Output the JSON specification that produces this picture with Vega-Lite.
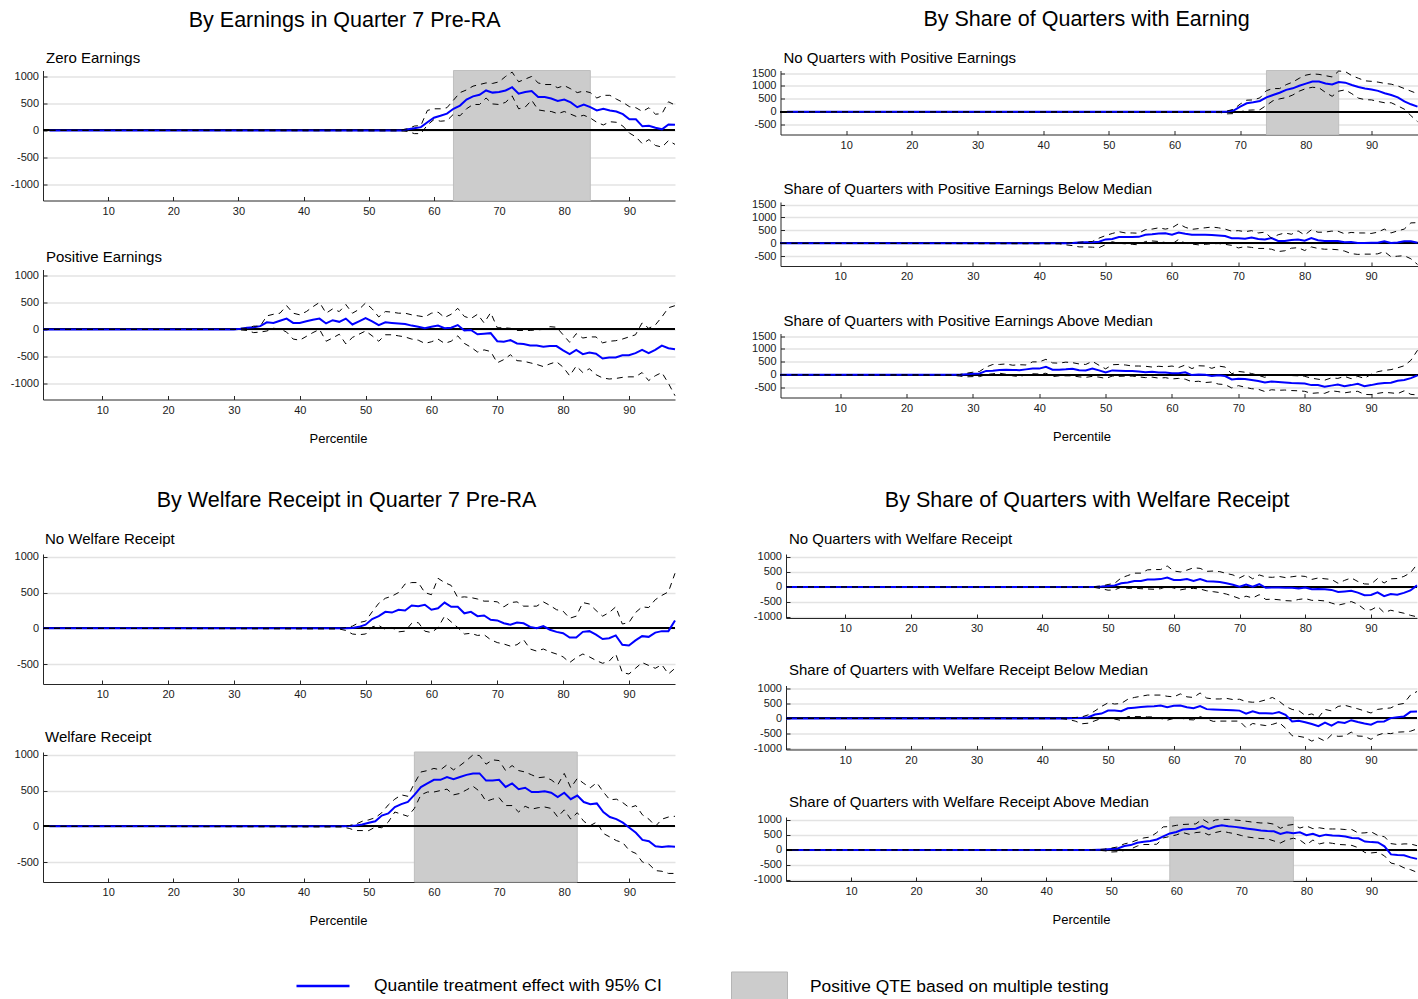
{
  "$schema": "https://vega.github.io/schema/vega-lite/v6.json",
  "padding": {"left": 10, "top": 8.5, "right": 0, "bottom": 0},
  "config": {
    "font": "Liberation Sans",
    "view": {"stroke": null},
    "axis": {"ticks": true, "tickSize": -4, "tickColor": "#262626", "labelOverlap": false, "labelFont": "Liberation Sans", "labelFontSize": 11, "labelColor": "#1a1a1a", "domainColor": "#262626", "domainWidth": 1, "labelPadding": 8.5, "titleFont": "Liberation Sans", "titleFontSize": 13, "titleFontWeight": "normal", "titleColor": "black"},
    "axisY": {"grid": true, "gridColor": "#e3e3e3", "gridWidth": 1.5, "tickCount": 10, "labelExpr": "'' + datum.value"},
    "axisX": {"grid": false, "labelAngle": 0},
    "title": {"font": "Liberation Sans", "fontWeight": "normal", "color": "black"},
    "legend": {"padding": 0, "labelFont": "Liberation Sans", "labelFontSize": 17.4, "labelColor": "black", "labelLimit": 0}
  },
  "datasets": {
    "zero": [
      {"x":1,"q":0,"l":0,"h":0},{"x":55,"q":0,"l":-10,"h":10},{"x":56,"q":20,"l":-20,"h":30},{"x":57,"q":40,"l":-60,"h":80},{"x":58,"q":60,"l":-60,"h":90},{"x":59,"q":150,"l":100,"h":370},{"x":60,"q":235,"l":200,"h":400},{"x":61,"q":270,"l":170,"h":400},{"x":62,"q":310,"l":180,"h":420},{"x":63,"q":400,"l":300,"h":560},{"x":64,"q":460,"l":270,"h":700},{"x":65,"q":570,"l":400,"h":750},{"x":66,"q":630,"l":480,"h":820},{"x":67,"q":660,"l":480,"h":850},{"x":68,"q":740,"l":600,"h":880},{"x":69,"q":700,"l":490,"h":870},{"x":70,"q":710,"l":480,"h":900},{"x":71,"q":740,"l":520,"h":1000},{"x":72,"q":800,"l":640,"h":1080},{"x":73,"q":680,"l":400,"h":900},{"x":74,"q":710,"l":430,"h":950},{"x":75,"q":730,"l":560,"h":1000},{"x":76,"q":620,"l":380,"h":880},{"x":77,"q":620,"l":360,"h":850},{"x":78,"q":590,"l":350,"h":850},{"x":79,"q":545,"l":310,"h":790},{"x":80,"q":570,"l":350,"h":830},{"x":81,"q":520,"l":300,"h":770},{"x":82,"q":430,"l":250,"h":700},{"x":83,"q":480,"l":280,"h":730},{"x":84,"q":430,"l":230,"h":700},{"x":85,"q":370,"l":150,"h":600},{"x":86,"q":400,"l":100,"h":650},{"x":87,"q":370,"l":160,"h":650},{"x":88,"q":350,"l":150,"h":580},{"x":89,"q":300,"l":80,"h":520},{"x":90,"q":205,"l":-50,"h":440},{"x":91,"q":205,"l":-120,"h":420},{"x":92,"q":75,"l":-250,"h":350},{"x":93,"q":85,"l":-170,"h":420},{"x":94,"q":50,"l":-280,"h":300},{"x":95,"q":20,"l":-310,"h":310},{"x":96,"q":110,"l":-190,"h":530},{"x":97,"q":105,"l":-260,"h":470}
    ],
    "pos": [
      {"x":1,"q":0,"l":0,"h":0},{"x":30,"q":0,"l":0,"h":0},{"x":31,"q":10,"l":-10,"h":20},{"x":32,"q":30,"l":-20,"h":20},{"x":33,"q":40,"l":-60,"h":60},{"x":34,"q":60,"l":-50,"h":60},{"x":35,"q":130,"l":-30,"h":250},{"x":36,"q":120,"l":20,"h":280},{"x":37,"q":160,"l":10,"h":300},{"x":38,"q":200,"l":-50,"h":440},{"x":39,"q":120,"l":-180,"h":300},{"x":40,"q":120,"l":-200,"h":270},{"x":41,"q":150,"l":-130,"h":330},{"x":42,"q":180,"l":-60,"h":420},{"x":43,"q":200,"l":0,"h":500},{"x":44,"q":110,"l":-220,"h":300},{"x":45,"q":170,"l":-160,"h":380},{"x":46,"q":140,"l":-90,"h":330},{"x":47,"q":200,"l":-270,"h":460},{"x":48,"q":90,"l":-150,"h":300},{"x":49,"q":150,"l":-90,"h":370},{"x":50,"q":210,"l":-30,"h":490},{"x":51,"q":150,"l":-120,"h":380},{"x":52,"q":80,"l":-220,"h":230},{"x":53,"q":130,"l":-100,"h":330},{"x":54,"q":120,"l":-100,"h":320},{"x":55,"q":110,"l":-120,"h":300},{"x":56,"q":100,"l":-140,"h":300},{"x":57,"q":70,"l":-180,"h":270},{"x":58,"q":50,"l":-200,"h":250},{"x":59,"q":20,"l":-260,"h":230},{"x":60,"q":50,"l":-230,"h":300},{"x":61,"q":70,"l":-180,"h":320},{"x":62,"q":20,"l":-260,"h":220},{"x":63,"q":30,"l":-220,"h":280},{"x":64,"q":80,"l":-120,"h":390},{"x":65,"q":-20,"l":-260,"h":240},{"x":66,"q":-10,"l":-330,"h":200},{"x":67,"q":-90,"l":-420,"h":280},{"x":68,"q":-80,"l":-380,"h":120},{"x":69,"q":-70,"l":-410,"h":310},{"x":70,"q":-220,"l":-620,"h":30},{"x":71,"q":-230,"l":-560,"h":30},{"x":72,"q":-200,"l":-470,"h":20},{"x":73,"q":-260,"l":-580,"h":-20},{"x":74,"q":-270,"l":-590,"h":-20},{"x":75,"q":-300,"l":-620,"h":-20},{"x":76,"q":-300,"l":-650,"h":-10},{"x":77,"q":-320,"l":-690,"h":0},{"x":78,"q":-310,"l":-640,"h":50},{"x":79,"q":-310,"l":-600,"h":40},{"x":80,"q":-390,"l":-700,"h":-100},{"x":81,"q":-460,"l":-860,"h":-240},{"x":82,"q":-380,"l":-680,"h":-80},{"x":83,"q":-460,"l":-800,"h":-160},{"x":84,"q":-430,"l":-730,"h":-140},{"x":85,"q":-450,"l":-840,"h":-140},{"x":86,"q":-540,"l":-900,"h":-250},{"x":87,"q":-520,"l":-920,"h":-220},{"x":88,"q":-520,"l":-910,"h":-210},{"x":89,"q":-480,"l":-890,"h":-180},{"x":90,"q":-480,"l":-880,"h":-140},{"x":91,"q":-440,"l":-880,"h":-100},{"x":92,"q":-380,"l":-800,"h":120},{"x":93,"q":-440,"l":-950,"h":20},{"x":94,"q":-380,"l":-860,"h":80},{"x":95,"q":-300,"l":-800,"h":230},{"x":96,"q":-350,"l":-1000,"h":400},{"x":97,"q":-370,"l":-1230,"h":440}
    ],
    "noq": [
      {"x":1,"q":0,"l":0,"h":0},{"x":67,"q":0,"l":-30,"h":10},{"x":68,"q":10,"l":-80,"h":30},{"x":69,"q":50,"l":-70,"h":100},{"x":70,"q":200,"l":0,"h":300},{"x":71,"q":330,"l":60,"h":450},{"x":72,"q":370,"l":70,"h":460},{"x":73,"q":420,"l":80,"h":540},{"x":74,"q":560,"l":250,"h":820},{"x":75,"q":650,"l":430,"h":900},{"x":76,"q":740,"l":500,"h":900},{"x":77,"q":850,"l":550,"h":1050},{"x":78,"q":910,"l":650,"h":1150},{"x":79,"q":1010,"l":800,"h":1300},{"x":80,"q":1090,"l":900,"h":1420},{"x":81,"q":1170,"l":950,"h":1470},{"x":82,"q":1170,"l":930,"h":1450},{"x":83,"q":1100,"l":750,"h":1400},{"x":84,"q":1060,"l":600,"h":1350},{"x":85,"q":1150,"l":800,"h":1580},{"x":86,"q":1130,"l":850,"h":1560},{"x":87,"q":1040,"l":700,"h":1400},{"x":88,"q":960,"l":530,"h":1300},{"x":89,"q":900,"l":470,"h":1200},{"x":90,"q":860,"l":460,"h":1180},{"x":91,"q":810,"l":400,"h":1150},{"x":92,"q":720,"l":350,"h":1100},{"x":93,"q":650,"l":350,"h":1070},{"x":94,"q":560,"l":230,"h":1000},{"x":95,"q":400,"l":100,"h":900},{"x":96,"q":290,"l":-150,"h":800},{"x":97,"q":200,"l":-380,"h":700}
    ],
    "below": [
      {"x":1,"q":0,"l":0,"h":0},{"x":43,"q":0,"l":-20,"h":0},{"x":44,"q":0,"l":-60,"h":10},{"x":45,"q":10,"l":-90,"h":20},{"x":46,"q":30,"l":-140,"h":40},{"x":47,"q":40,"l":-140,"h":60},{"x":48,"q":40,"l":-150,"h":70},{"x":49,"q":60,"l":-170,"h":200},{"x":50,"q":150,"l":-50,"h":300},{"x":51,"q":170,"l":60,"h":380},{"x":52,"q":240,"l":0,"h":450},{"x":53,"q":240,"l":-20,"h":400},{"x":54,"q":240,"l":-40,"h":400},{"x":55,"q":250,"l":-60,"h":390},{"x":56,"q":330,"l":70,"h":530},{"x":57,"q":350,"l":90,"h":550},{"x":58,"q":380,"l":70,"h":600},{"x":59,"q":390,"l":30,"h":550},{"x":60,"q":330,"l":-30,"h":600},{"x":61,"q":420,"l":150,"h":760},{"x":62,"q":370,"l":0,"h":620},{"x":63,"q":330,"l":-30,"h":540},{"x":64,"q":330,"l":-60,"h":570},{"x":65,"q":330,"l":-40,"h":600},{"x":66,"q":320,"l":-20,"h":630},{"x":67,"q":300,"l":-10,"h":600},{"x":68,"q":280,"l":-40,"h":550},{"x":69,"q":200,"l":-80,"h":470},{"x":70,"q":200,"l":-180,"h":490},{"x":71,"q":180,"l":-130,"h":450},{"x":72,"q":220,"l":-160,"h":490},{"x":73,"q":170,"l":-200,"h":400},{"x":74,"q":150,"l":-200,"h":430},{"x":75,"q":200,"l":-230,"h":200},{"x":76,"q":90,"l":-320,"h":330},{"x":77,"q":90,"l":-290,"h":400},{"x":78,"q":130,"l":-190,"h":350},{"x":79,"q":150,"l":-170,"h":480},{"x":80,"q":100,"l":-280,"h":320},{"x":81,"q":200,"l":-140,"h":520},{"x":82,"q":120,"l":-200,"h":430},{"x":83,"q":90,"l":-230,"h":430},{"x":84,"q":90,"l":-230,"h":470},{"x":85,"q":90,"l":-250,"h":470},{"x":86,"q":40,"l":-300,"h":370},{"x":87,"q":50,"l":-400,"h":420},{"x":88,"q":10,"l":-430,"h":400},{"x":89,"q":10,"l":-420,"h":400},{"x":90,"q":20,"l":-420,"h":380},{"x":91,"q":20,"l":-410,"h":430},{"x":92,"q":80,"l":-320,"h":550},{"x":93,"q":10,"l":-520,"h":400},{"x":94,"q":30,"l":-500,"h":480},{"x":95,"q":80,"l":-480,"h":550},{"x":96,"q":80,"l":-600,"h":790},{"x":97,"q":20,"l":-820,"h":800}
    ],
    "above": [
      {"x":1,"q":0,"l":0,"h":0},{"x":27,"q":0,"l":-20,"h":0},{"x":28,"q":0,"l":-50,"h":10},{"x":29,"q":20,"l":-80,"h":60},{"x":30,"q":40,"l":-70,"h":100},{"x":31,"q":50,"l":-70,"h":130},{"x":32,"q":150,"l":10,"h":300},{"x":33,"q":160,"l":40,"h":400},{"x":34,"q":190,"l":60,"h":400},{"x":35,"q":200,"l":20,"h":420},{"x":36,"q":190,"l":-40,"h":370},{"x":37,"q":180,"l":-70,"h":390},{"x":38,"q":210,"l":0,"h":380},{"x":39,"q":240,"l":40,"h":500},{"x":40,"q":240,"l":30,"h":500},{"x":41,"q":310,"l":60,"h":600},{"x":42,"q":200,"l":-70,"h":460},{"x":43,"q":200,"l":-40,"h":450},{"x":44,"q":210,"l":-40,"h":490},{"x":45,"q":230,"l":-40,"h":470},{"x":46,"q":180,"l":-80,"h":420},{"x":47,"q":170,"l":-100,"h":400},{"x":48,"q":240,"l":-60,"h":520},{"x":49,"q":170,"l":-90,"h":370},{"x":50,"q":90,"l":-140,"h":230},{"x":51,"q":170,"l":-50,"h":390},{"x":52,"q":160,"l":-60,"h":400},{"x":53,"q":150,"l":-50,"h":380},{"x":54,"q":150,"l":-50,"h":340},{"x":55,"q":130,"l":-80,"h":340},{"x":56,"q":100,"l":-110,"h":330},{"x":57,"q":120,"l":-90,"h":300},{"x":58,"q":90,"l":-130,"h":330},{"x":59,"q":90,"l":-110,"h":310},{"x":60,"q":60,"l":-160,"h":340},{"x":61,"q":60,"l":-140,"h":280},{"x":62,"q":100,"l":-170,"h":380},{"x":63,"q":-10,"l":-270,"h":240},{"x":64,"q":10,"l":-250,"h":350},{"x":65,"q":0,"l":-300,"h":340},{"x":66,"q":-50,"l":-280,"h":250},{"x":67,"q":-20,"l":-360,"h":340},{"x":68,"q":-50,"l":-380,"h":300},{"x":69,"q":-180,"l":-510,"h":40},{"x":70,"q":-150,"l":-420,"h":130},{"x":71,"q":-160,"l":-480,"h":100},{"x":72,"q":-200,"l":-540,"h":50},{"x":73,"q":-240,"l":-560,"h":-20},{"x":74,"q":-300,"l":-650,"h":-100},{"x":75,"q":-260,"l":-580,"h":10},{"x":76,"q":-280,"l":-600,"h":-10},{"x":77,"q":-300,"l":-590,"h":-20},{"x":78,"q":-320,"l":-610,"h":-30},{"x":79,"q":-330,"l":-620,"h":-40},{"x":80,"q":-340,"l":-640,"h":-60},{"x":81,"q":-400,"l":-720,"h":-130},{"x":82,"q":-400,"l":-700,"h":-170},{"x":83,"q":-460,"l":-720,"h":-210},{"x":84,"q":-420,"l":-620,"h":-120},{"x":85,"q":-380,"l":-650,"h":-140},{"x":86,"q":-440,"l":-700,"h":-60},{"x":87,"q":-400,"l":-660,"h":-150},{"x":88,"q":-350,"l":-640,"h":-60},{"x":89,"q":-440,"l":-760,"h":-140},{"x":90,"q":-400,"l":-770,"h":20},{"x":91,"q":-350,"l":-720,"h":120},{"x":92,"q":-320,"l":-680,"h":170},{"x":93,"q":-310,"l":-700,"h":200},{"x":94,"q":-230,"l":-730,"h":270},{"x":95,"q":-200,"l":-620,"h":350},{"x":96,"q":-130,"l":-760,"h":560},{"x":97,"q":-20,"l":-780,"h":950}
    ],
    "nowel": [
      {"x":1,"q":0,"l":0,"h":0},{"x":46,"q":0,"l":-10,"h":0},{"x":47,"q":0,"l":-30,"h":10},{"x":48,"q":5,"l":-80,"h":30},{"x":49,"q":20,"l":-90,"h":80},{"x":50,"q":50,"l":-80,"h":100},{"x":51,"q":130,"l":20,"h":230},{"x":52,"q":170,"l":40,"h":350},{"x":53,"q":230,"l":-20,"h":420},{"x":54,"q":220,"l":10,"h":450},{"x":55,"q":260,"l":-50,"h":500},{"x":56,"q":250,"l":-40,"h":620},{"x":57,"q":320,"l":70,"h":640},{"x":58,"q":310,"l":80,"h":640},{"x":59,"q":330,"l":-40,"h":500},{"x":60,"q":260,"l":-60,"h":470},{"x":61,"q":280,"l":10,"h":700},{"x":62,"q":360,"l":170,"h":640},{"x":63,"q":300,"l":90,"h":600},{"x":64,"q":300,"l":10,"h":430},{"x":65,"q":210,"l":-80,"h":440},{"x":66,"q":230,"l":-70,"h":430},{"x":67,"q":170,"l":-100,"h":410},{"x":68,"q":180,"l":-90,"h":380},{"x":69,"q":120,"l":-160,"h":380},{"x":70,"q":110,"l":-200,"h":370},{"x":71,"q":70,"l":-220,"h":300},{"x":72,"q":50,"l":-250,"h":360},{"x":73,"q":80,"l":-230,"h":370},{"x":74,"q":70,"l":-160,"h":310},{"x":75,"q":20,"l":-290,"h":310},{"x":76,"q":0,"l":-320,"h":310},{"x":77,"q":30,"l":-290,"h":370},{"x":78,"q":-20,"l":-330,"h":320},{"x":79,"q":-50,"l":-360,"h":260},{"x":80,"q":-70,"l":-400,"h":240},{"x":81,"q":-130,"l":-480,"h":140},{"x":82,"q":-130,"l":-410,"h":170},{"x":83,"q":-50,"l":-360,"h":360},{"x":84,"q":-40,"l":-400,"h":340},{"x":85,"q":-90,"l":-450,"h":250},{"x":86,"q":-150,"l":-490,"h":170},{"x":87,"q":-140,"l":-460,"h":220},{"x":88,"q":-100,"l":-360,"h":300},{"x":89,"q":-230,"l":-620,"h":60},{"x":90,"q":-240,"l":-640,"h":80},{"x":91,"q":-170,"l":-560,"h":220},{"x":92,"q":-110,"l":-480,"h":300},{"x":93,"q":-120,"l":-520,"h":290},{"x":94,"q":-60,"l":-560,"h":400},{"x":95,"q":-40,"l":-510,"h":460},{"x":96,"q":-40,"l":-640,"h":510},{"x":97,"q":110,"l":-560,"h":770}
    ],
    "wel": [
      {"x":1,"q":0,"l":0,"h":0},{"x":46,"q":0,"l":-10,"h":0},{"x":47,"q":5,"l":-30,"h":10},{"x":48,"q":10,"l":-60,"h":30},{"x":49,"q":25,"l":-60,"h":70},{"x":50,"q":50,"l":-60,"h":90},{"x":51,"q":70,"l":-10,"h":120},{"x":52,"q":150,"l":-20,"h":190},{"x":53,"q":180,"l":60,"h":300},{"x":54,"q":270,"l":200,"h":380},{"x":55,"q":310,"l":170,"h":440},{"x":56,"q":340,"l":140,"h":420},{"x":57,"q":440,"l":250,"h":600},{"x":58,"q":550,"l":440,"h":760},{"x":59,"q":600,"l":480,"h":780},{"x":60,"q":650,"l":480,"h":810},{"x":61,"q":650,"l":500,"h":790},{"x":62,"q":690,"l":520,"h":860},{"x":63,"q":660,"l":440,"h":790},{"x":64,"q":690,"l":460,"h":850},{"x":65,"q":720,"l":510,"h":920},{"x":66,"q":740,"l":560,"h":1000},{"x":67,"q":740,"l":490,"h":990},{"x":68,"q":640,"l":350,"h":870},{"x":69,"q":640,"l":380,"h":930},{"x":70,"q":650,"l":400,"h":920},{"x":71,"q":550,"l":290,"h":780},{"x":72,"q":600,"l":290,"h":850},{"x":73,"q":520,"l":200,"h":780},{"x":74,"q":540,"l":280,"h":760},{"x":75,"q":480,"l":240,"h":720},{"x":76,"q":480,"l":260,"h":680},{"x":77,"q":490,"l":270,"h":690},{"x":78,"q":470,"l":250,"h":650},{"x":79,"q":410,"l":130,"h":580},{"x":80,"q":470,"l":230,"h":740},{"x":81,"q":380,"l":100,"h":540},{"x":82,"q":430,"l":190,"h":670},{"x":83,"q":340,"l":70,"h":600},{"x":84,"q":310,"l":10,"h":540},{"x":85,"q":320,"l":60,"h":610},{"x":86,"q":200,"l":-100,"h":480},{"x":87,"q":130,"l":-150,"h":370},{"x":88,"q":100,"l":-200,"h":380},{"x":89,"q":50,"l":-230,"h":330},{"x":90,"q":-20,"l":-340,"h":260},{"x":91,"q":-90,"l":-380,"h":290},{"x":92,"q":-190,"l":-500,"h":160},{"x":93,"q":-210,"l":-530,"h":100},{"x":94,"q":-280,"l":-620,"h":0},{"x":95,"q":-290,"l":-630,"h":100},{"x":96,"q":-280,"l":-660,"h":130},{"x":97,"q":-285,"l":-660,"h":140}
    ],
    "noqw": [
      {"x":1,"q":0,"l":0,"h":0},{"x":47,"q":0,"l":-10,"h":0},{"x":48,"q":0,"l":-20,"h":10},{"x":49,"q":10,"l":-60,"h":30},{"x":50,"q":30,"l":-110,"h":80},{"x":51,"q":50,"l":-100,"h":120},{"x":52,"q":120,"l":-10,"h":300},{"x":53,"q":150,"l":-50,"h":380},{"x":54,"q":200,"l":-40,"h":460},{"x":55,"q":200,"l":-60,"h":460},{"x":56,"q":250,"l":-70,"h":570},{"x":57,"q":250,"l":-80,"h":580},{"x":58,"q":260,"l":-60,"h":580},{"x":59,"q":310,"l":20,"h":700},{"x":60,"q":230,"l":-40,"h":530},{"x":61,"q":230,"l":-100,"h":500},{"x":62,"q":260,"l":-60,"h":560},{"x":63,"q":200,"l":-50,"h":640},{"x":64,"q":260,"l":-70,"h":620},{"x":65,"q":190,"l":-130,"h":520},{"x":66,"q":180,"l":-160,"h":530},{"x":67,"q":160,"l":-190,"h":510},{"x":68,"q":120,"l":-240,"h":450},{"x":69,"q":70,"l":-310,"h":400},{"x":70,"q":10,"l":-390,"h":300},{"x":71,"q":80,"l":-310,"h":410},{"x":72,"q":10,"l":-370,"h":270},{"x":73,"q":90,"l":-260,"h":400},{"x":74,"q":-30,"l":-420,"h":330},{"x":75,"q":-20,"l":-410,"h":320},{"x":76,"q":-20,"l":-430,"h":350},{"x":77,"q":-30,"l":-460,"h":310},{"x":78,"q":-30,"l":-470,"h":340},{"x":79,"q":-50,"l":-420,"h":370},{"x":80,"q":-20,"l":-390,"h":350},{"x":81,"q":-80,"l":-450,"h":250},{"x":82,"q":-70,"l":-450,"h":300},{"x":83,"q":-80,"l":-470,"h":270},{"x":84,"q":-100,"l":-540,"h":250},{"x":85,"q":-170,"l":-610,"h":120},{"x":86,"q":-150,"l":-560,"h":220},{"x":87,"q":-130,"l":-490,"h":300},{"x":88,"q":-190,"l":-580,"h":180},{"x":89,"q":-280,"l":-750,"h":100},{"x":90,"q":-270,"l":-770,"h":90},{"x":91,"q":-180,"l":-650,"h":280},{"x":92,"q":-310,"l":-860,"h":130},{"x":93,"q":-240,"l":-780,"h":270},{"x":94,"q":-260,"l":-830,"h":280},{"x":95,"q":-200,"l":-880,"h":350},{"x":96,"q":-120,"l":-950,"h":470},{"x":97,"q":50,"l":-1000,"h":750}
    ],
    "belw": [
      {"x":1,"q":0,"l":0,"h":0},{"x":43,"q":0,"l":-10,"h":0},{"x":44,"q":5,"l":-40,"h":10},{"x":45,"q":10,"l":-90,"h":30},{"x":46,"q":20,"l":-180,"h":50},{"x":47,"q":40,"l":-160,"h":120},{"x":48,"q":130,"l":-80,"h":250},{"x":49,"q":160,"l":0,"h":400},{"x":50,"q":260,"l":30,"h":520},{"x":51,"q":260,"l":-20,"h":480},{"x":52,"q":240,"l":-70,"h":500},{"x":53,"q":340,"l":60,"h":640},{"x":54,"q":360,"l":60,"h":700},{"x":55,"q":380,"l":60,"h":740},{"x":56,"q":400,"l":50,"h":780},{"x":57,"q":410,"l":50,"h":780},{"x":58,"q":430,"l":0,"h":780},{"x":59,"q":370,"l":-60,"h":740},{"x":60,"q":420,"l":0,"h":720},{"x":61,"q":430,"l":20,"h":820},{"x":62,"q":370,"l":-40,"h":720},{"x":63,"q":340,"l":-50,"h":700},{"x":64,"q":410,"l":60,"h":850},{"x":65,"q":310,"l":-20,"h":680},{"x":66,"q":300,"l":-100,"h":650},{"x":67,"q":290,"l":-90,"h":650},{"x":68,"q":280,"l":-90,"h":670},{"x":69,"q":270,"l":-90,"h":630},{"x":70,"q":260,"l":-90,"h":640},{"x":71,"q":160,"l":-310,"h":560},{"x":72,"q":240,"l":-170,"h":540},{"x":73,"q":170,"l":-210,"h":560},{"x":74,"q":170,"l":-240,"h":620},{"x":75,"q":160,"l":-200,"h":700},{"x":76,"q":210,"l":-130,"h":580},{"x":77,"q":120,"l":-330,"h":400},{"x":78,"q":-100,"l":-580,"h":300},{"x":79,"q":-80,"l":-600,"h":260},{"x":80,"q":-130,"l":-640,"h":100},{"x":81,"q":-190,"l":-760,"h":150},{"x":82,"q":-260,"l":-650,"h":30},{"x":83,"q":-140,"l":-760,"h":300},{"x":84,"q":-240,"l":-550,"h":250},{"x":85,"q":-120,"l":-600,"h":400},{"x":86,"q":-150,"l":-590,"h":440},{"x":87,"q":-60,"l":-460,"h":380},{"x":88,"q":-120,"l":-590,"h":320},{"x":89,"q":-170,"l":-600,"h":250},{"x":90,"q":-210,"l":-700,"h":180},{"x":91,"q":-110,"l":-560,"h":300},{"x":92,"q":-100,"l":-490,"h":330},{"x":93,"q":10,"l":-510,"h":350},{"x":94,"q":40,"l":-460,"h":460},{"x":95,"q":60,"l":-450,"h":500},{"x":96,"q":220,"l":-430,"h":780},{"x":97,"q":230,"l":-350,"h":900}
    ],
    "abvw": [
      {"x":1,"q":0,"l":0,"h":0},{"x":47,"q":0,"l":-5,"h":5},{"x":48,"q":5,"l":-10,"h":10},{"x":49,"q":10,"l":-30,"h":30},{"x":50,"q":30,"l":-70,"h":60},{"x":51,"q":50,"l":-60,"h":100},{"x":52,"q":130,"l":-20,"h":200},{"x":53,"q":160,"l":30,"h":250},{"x":54,"q":240,"l":130,"h":330},{"x":55,"q":270,"l":180,"h":400},{"x":56,"q":300,"l":180,"h":430},{"x":57,"q":350,"l":190,"h":580},{"x":58,"q":450,"l":400,"h":770},{"x":59,"q":550,"l":450,"h":780},{"x":60,"q":600,"l":500,"h":820},{"x":61,"q":680,"l":580,"h":850},{"x":62,"q":700,"l":520,"h":860},{"x":63,"q":710,"l":580,"h":870},{"x":64,"q":800,"l":600,"h":1030},{"x":65,"q":700,"l":500,"h":900},{"x":66,"q":780,"l":580,"h":1000},{"x":67,"q":820,"l":630,"h":1020},{"x":68,"q":790,"l":580,"h":1020},{"x":69,"q":770,"l":540,"h":1000},{"x":70,"q":740,"l":480,"h":980},{"x":71,"q":710,"l":430,"h":950},{"x":72,"q":680,"l":400,"h":920},{"x":73,"q":650,"l":380,"h":900},{"x":74,"q":630,"l":370,"h":900},{"x":75,"q":620,"l":300,"h":860},{"x":76,"q":530,"l":230,"h":720},{"x":77,"q":590,"l":340,"h":820},{"x":78,"q":560,"l":390,"h":850},{"x":79,"q":590,"l":330,"h":730},{"x":80,"q":490,"l":170,"h":800},{"x":81,"q":540,"l":330,"h":710},{"x":82,"q":460,"l":200,"h":740},{"x":83,"q":510,"l":250,"h":700},{"x":84,"q":480,"l":220,"h":700},{"x":85,"q":470,"l":180,"h":700},{"x":86,"q":450,"l":170,"h":680},{"x":87,"q":400,"l":150,"h":680},{"x":88,"q":390,"l":70,"h":560},{"x":89,"q":280,"l":-90,"h":570},{"x":90,"q":260,"l":-100,"h":600},{"x":91,"q":250,"l":-80,"h":480},{"x":92,"q":120,"l":-200,"h":440},{"x":93,"q":-150,"l":-440,"h":210},{"x":94,"q":-170,"l":-490,"h":180},{"x":95,"q":-180,"l":-600,"h":200},{"x":96,"q":-250,"l":-660,"h":200},{"x":97,"q":-300,"l":-750,"h":140}
    ]
  },
  "spacing": 44.5,
  "vconcat": [
    {
      "spacing": 72.5,
      "hconcat": [
        {
          "title": {"text": "By Earnings in Quarter 7 Pre-RA", "anchor": "middle", "fontSize": 21.5, "offset": 20},
          "spacing": 33,
          "vconcat": [
            {
              "title": {"text": "Zero Earnings", "anchor": "start", "frame": "group", "fontSize": 15, "offset": 4, "dx": 3},
              "width": 632, "height": 130,
              "data": {"name": "zero"},
              "layer": [
                {"data": {"values": [{"a": 63, "b": 84}]}, "mark": {"type": "rect", "stroke": "#bfbfbf", "strokeWidth": 1}, "encoding": {"x": {"field": "a", "type": "quantitative", "title": null}, "x2": {"field": "b"}, "fill": {"datum": "Positive QTE based on multiple testing", "scale": {"range": ["#cccccc"]}, "legend": {"orient": "none", "legendX": 688, "legendY": 888, "title": null, "symbolType": "M-1,-0.536H1V0.536H-1Z", "symbolSize": 3136, "symbolStrokeColor": "#b5b5b5", "symbolStrokeWidth": 1, "symbolOpacity": 1, "labelOffset": 22, "labelFontSize": 17.4, "labelLimit": 0}}}},
                {"mark": {"type": "rule", "color": "black", "strokeWidth": 1.2}, "encoding": {"y": {"datum": 0, "type": "quantitative"}}},
                {"mark": {"type": "line", "strokeWidth": 2}, "encoding": {"x": {"field": "x", "type": "quantitative", "scale": {"domain": [1, 97], "nice": false}, "axis": {"values": [10,20,30,40,50,60,70,80,90], "title": null}}, "y": {"field": "q", "type": "quantitative", "scale": {"domain": [-1300, 1110], "nice": false}, "axis": {"values": [-1000,-500,0,500,1000], "tickCount": 10, "title": null, "labelOverlap": false}}, "stroke": {"datum": "Quantile treatment effect with 95% CI", "scale": {"range": ["#0000ff"]}, "legend": {"orient": "none", "legendX": 252, "legendY": 887.5, "title": null, "symbolType": "stroke", "symbolSize": 2809, "symbolStrokeWidth": 2.5, "labelOffset": 23, "labelFontSize": 17.4, "labelLimit": 0}}}},
                {"mark": {"type": "line", "color": "black", "strokeWidth": 1, "strokeDash": [6, 5]}, "encoding": {"x": {"field": "x", "type": "quantitative", "title": null}, "y": {"field": "h", "type": "quantitative", "title": null}}},
                {"mark": {"type": "line", "color": "black", "strokeWidth": 1, "strokeDash": [6, 5]}, "encoding": {"x": {"field": "x", "type": "quantitative", "title": null}, "y": {"field": "l", "type": "quantitative", "title": null}}}
              ]
            },
            {
              "title": {"text": "Positive Earnings", "anchor": "start", "frame": "group", "fontSize": 15, "offset": 4, "dx": 3},
              "width": 632, "height": 130,
              "data": {"name": "pos"},
              "layer": [
                {"mark": {"type": "rule", "color": "black", "strokeWidth": 1.2}, "encoding": {"y": {"datum": 0, "type": "quantitative"}}},
                {"mark": {"type": "line", "strokeWidth": 2, "color": "#0000ff"}, "encoding": {"x": {"field": "x", "type": "quantitative", "scale": {"domain": [1, 97], "nice": false}, "axis": {"values": [10,20,30,40,50,60,70,80,90], "title": "Percentile", "titleX": 295, "titlePadding": 17}}, "y": {"field": "q", "type": "quantitative", "scale": {"domain": [-1300, 1110], "nice": false}, "axis": {"values": [-1000,-500,0,500,1000], "tickCount": 10, "title": null, "labelOverlap": false}}}},
                {"mark": {"type": "line", "color": "black", "strokeWidth": 1, "strokeDash": [6, 5]}, "encoding": {"x": {"field": "x", "type": "quantitative", "title": "Percentile"}, "y": {"field": "h", "type": "quantitative", "title": null}}},
                {"mark": {"type": "line", "color": "black", "strokeWidth": 1, "strokeDash": [6, 5]}, "encoding": {"x": {"field": "x", "type": "quantitative", "title": "Percentile"}, "y": {"field": "l", "type": "quantitative", "title": null}}}
              ]
            }
          ]
        },
        {
          "title": {"text": "By Share of Quarters with Earning", "anchor": "middle", "fontSize": 21.5, "offset": 20},
          "spacing": 31.5,
          "vconcat": [
            {
              "title": {"text": "No Quarters with Positive Earnings", "anchor": "start", "frame": "group", "fontSize": 15, "offset": 1.5, "dx": 3},
              "width": 637, "height": 64,
              "data": {"name": "noq"},
              "layer": [
                {"data": {"values": [{"a": 74, "b": 85}]}, "mark": {"type": "rect", "fill": "#cccccc", "stroke": "#bfbfbf", "strokeWidth": 1}, "encoding": {"x": {"field": "a", "type": "quantitative", "title": null}, "x2": {"field": "b"}}},
                {"mark": {"type": "rule", "color": "black", "strokeWidth": 1.2}, "encoding": {"y": {"datum": 0, "type": "quantitative"}}},
                {"mark": {"type": "line", "strokeWidth": 2, "color": "#0000ff"}, "encoding": {"x": {"field": "x", "type": "quantitative", "scale": {"domain": [1, 97], "nice": false}, "axis": {"values": [10,20,30,40,50,60,70,80,90], "title": null}}, "y": {"field": "q", "type": "quantitative", "scale": {"domain": [-880, 1600], "nice": false}, "axis": {"values": [-500,0,500,1000,1500], "tickCount": 10, "title": null, "labelOverlap": false}}}},
                {"mark": {"type": "line", "color": "black", "strokeWidth": 1, "strokeDash": [6, 5]}, "encoding": {"x": {"field": "x", "type": "quantitative", "title": null}, "y": {"field": "h", "type": "quantitative", "title": null}}},
                {"mark": {"type": "line", "color": "black", "strokeWidth": 1, "strokeDash": [6, 5]}, "encoding": {"x": {"field": "x", "type": "quantitative", "title": null}, "y": {"field": "l", "type": "quantitative", "title": null}}}
              ]
            },
            {
              "title": {"text": "Share of Quarters with Positive Earnings Below Median", "anchor": "start", "frame": "group", "fontSize": 15, "offset": 1.5, "dx": 3},
              "width": 637, "height": 64,
              "data": {"name": "below"},
              "layer": [
                {"mark": {"type": "rule", "color": "black", "strokeWidth": 1.2}, "encoding": {"y": {"datum": 0, "type": "quantitative"}}},
                {"mark": {"type": "line", "strokeWidth": 2, "color": "#0000ff"}, "encoding": {"x": {"field": "x", "type": "quantitative", "scale": {"domain": [1, 97], "nice": false}, "axis": {"values": [10,20,30,40,50,60,70,80,90], "title": null}}, "y": {"field": "q", "type": "quantitative", "scale": {"domain": [-880, 1600], "nice": false}, "axis": {"values": [-500,0,500,1000,1500], "tickCount": 10, "title": null, "labelOverlap": false}}}},
                {"mark": {"type": "line", "color": "black", "strokeWidth": 1, "strokeDash": [6, 5]}, "encoding": {"x": {"field": "x", "type": "quantitative", "title": null}, "y": {"field": "h", "type": "quantitative", "title": null}}},
                {"mark": {"type": "line", "color": "black", "strokeWidth": 1, "strokeDash": [6, 5]}, "encoding": {"x": {"field": "x", "type": "quantitative", "title": null}, "y": {"field": "l", "type": "quantitative", "title": null}}}
              ]
            },
            {
              "title": {"text": "Share of Quarters with Positive Earnings Above Median", "anchor": "start", "frame": "group", "fontSize": 15, "offset": 1.5, "dx": 3},
              "width": 637, "height": 64,
              "data": {"name": "above"},
              "layer": [
                {"mark": {"type": "rule", "color": "black", "strokeWidth": 1.2}, "encoding": {"y": {"datum": 0, "type": "quantitative"}}},
                {"mark": {"type": "line", "strokeWidth": 2, "color": "#0000ff"}, "encoding": {"x": {"field": "x", "type": "quantitative", "scale": {"domain": [1, 97], "nice": false}, "axis": {"values": [10,20,30,40,50,60,70,80,90], "title": "Percentile", "titleX": 301, "titlePadding": 17}}, "y": {"field": "q", "type": "quantitative", "scale": {"domain": [-880, 1600], "nice": false}, "axis": {"values": [-500,0,500,1000,1500], "tickCount": 10, "title": null, "labelOverlap": false}}}},
                {"mark": {"type": "line", "color": "black", "strokeWidth": 1, "strokeDash": [6, 5]}, "encoding": {"x": {"field": "x", "type": "quantitative", "title": "Percentile"}, "y": {"field": "h", "type": "quantitative", "title": null}}},
                {"mark": {"type": "line", "color": "black", "strokeWidth": 1, "strokeDash": [6, 5]}, "encoding": {"x": {"field": "x", "type": "quantitative", "title": "Percentile"}, "y": {"field": "l", "type": "quantitative", "title": null}}}
              ]
            }
          ]
        }
      ]
    },
    {
      "spacing": 74,
      "hconcat": [
        {
          "title": {"text": "By Welfare Receipt in Quarter 7 Pre-RA", "anchor": "middle", "fontSize": 21.5, "offset": 20},
          "spacing": 29,
          "vconcat": [
            {
              "title": {"text": "No Welfare Receipt", "anchor": "start", "frame": "group", "fontSize": 15, "offset": 4, "dx": 2},
              "width": 632, "height": 130,
              "data": {"name": "nowel"},
              "layer": [
                {"mark": {"type": "rule", "color": "black", "strokeWidth": 1.2}, "encoding": {"y": {"datum": 0, "type": "quantitative"}}},
                {"mark": {"type": "line", "strokeWidth": 2, "color": "#0000ff"}, "encoding": {"x": {"field": "x", "type": "quantitative", "scale": {"domain": [1, 97], "nice": false}, "axis": {"values": [10,20,30,40,50,60,70,80,90], "title": null}}, "y": {"field": "q", "type": "quantitative", "scale": {"domain": [-780, 1040], "nice": false}, "axis": {"values": [-500,0,500,1000], "tickCount": 10, "title": null, "labelOverlap": false}}}},
                {"mark": {"type": "line", "color": "black", "strokeWidth": 1, "strokeDash": [6, 5]}, "encoding": {"x": {"field": "x", "type": "quantitative", "title": null}, "y": {"field": "h", "type": "quantitative", "title": null}}},
                {"mark": {"type": "line", "color": "black", "strokeWidth": 1, "strokeDash": [6, 5]}, "encoding": {"x": {"field": "x", "type": "quantitative", "title": null}, "y": {"field": "l", "type": "quantitative", "title": null}}}
              ]
            },
            {
              "title": {"text": "Welfare Receipt", "anchor": "start", "frame": "group", "fontSize": 15, "offset": 4, "dx": 2},
              "width": 632, "height": 130,
              "data": {"name": "wel"},
              "layer": [
                {"data": {"values": [{"a": 57, "b": 82}]}, "mark": {"type": "rect", "fill": "#cccccc", "stroke": "#bfbfbf", "strokeWidth": 1}, "encoding": {"x": {"field": "a", "type": "quantitative", "title": "Percentile"}, "x2": {"field": "b"}}},
                {"mark": {"type": "rule", "color": "black", "strokeWidth": 1.2}, "encoding": {"y": {"datum": 0, "type": "quantitative"}}},
                {"mark": {"type": "line", "strokeWidth": 2, "color": "#0000ff"}, "encoding": {"x": {"field": "x", "type": "quantitative", "scale": {"domain": [1, 97], "nice": false}, "axis": {"values": [10,20,30,40,50,60,70,80,90], "title": "Percentile", "titleX": 295, "titlePadding": 17}}, "y": {"field": "q", "type": "quantitative", "scale": {"domain": [-780, 1040], "nice": false}, "axis": {"values": [-500,0,500,1000], "tickCount": 10, "title": null, "labelOverlap": false}}}},
                {"mark": {"type": "line", "color": "black", "strokeWidth": 1, "strokeDash": [6, 5]}, "encoding": {"x": {"field": "x", "type": "quantitative", "title": "Percentile"}, "y": {"field": "h", "type": "quantitative", "title": null}}},
                {"mark": {"type": "line", "color": "black", "strokeWidth": 1, "strokeDash": [6, 5]}, "encoding": {"x": {"field": "x", "type": "quantitative", "title": "Percentile"}, "y": {"field": "l", "type": "quantitative", "title": null}}}
              ]
            }
          ]
        },
        {
          "title": {"text": "By Share of Quarters with Welfare Receipt", "anchor": "middle", "fontSize": 21.5, "offset": 20},
          "spacing": 28.5,
          "vconcat": [
            {
              "title": {"text": "No Quarters with Welfare Receipt", "anchor": "start", "frame": "group", "fontSize": 15, "offset": 4, "dx": 3},
              "width": 631, "height": 64,
              "data": {"name": "noqw"},
              "layer": [
                {"mark": {"type": "rule", "color": "black", "strokeWidth": 1.2}, "encoding": {"y": {"datum": 0, "type": "quantitative"}}},
                {"mark": {"type": "line", "strokeWidth": 2, "color": "#0000ff"}, "encoding": {"x": {"field": "x", "type": "quantitative", "scale": {"domain": [1, 97], "nice": false}, "axis": {"values": [10,20,30,40,50,60,70,80,90], "title": null}}, "y": {"field": "q", "type": "quantitative", "scale": {"domain": [-1040, 1100], "nice": false}, "axis": {"values": [-1000,-500,0,500,1000], "tickCount": 10, "title": null, "labelOverlap": false}}}},
                {"mark": {"type": "line", "color": "black", "strokeWidth": 1, "strokeDash": [6, 5]}, "encoding": {"x": {"field": "x", "type": "quantitative", "title": null}, "y": {"field": "h", "type": "quantitative", "title": null}}},
                {"mark": {"type": "line", "color": "black", "strokeWidth": 1, "strokeDash": [6, 5]}, "encoding": {"x": {"field": "x", "type": "quantitative", "title": null}, "y": {"field": "l", "type": "quantitative", "title": null}}}
              ]
            },
            {
              "title": {"text": "Share of Quarters with Welfare Receipt Below Median", "anchor": "start", "frame": "group", "fontSize": 15, "offset": 4, "dx": 3},
              "width": 631, "height": 64,
              "data": {"name": "belw"},
              "layer": [
                {"mark": {"type": "rule", "color": "black", "strokeWidth": 1.2}, "encoding": {"y": {"datum": 0, "type": "quantitative"}}},
                {"mark": {"type": "line", "strokeWidth": 2, "color": "#0000ff"}, "encoding": {"x": {"field": "x", "type": "quantitative", "scale": {"domain": [1, 97], "nice": false}, "axis": {"values": [10,20,30,40,50,60,70,80,90], "title": null}}, "y": {"field": "q", "type": "quantitative", "scale": {"domain": [-1040, 1100], "nice": false}, "axis": {"values": [-1000,-500,0,500,1000], "tickCount": 10, "title": null, "labelOverlap": false}}}},
                {"mark": {"type": "line", "color": "black", "strokeWidth": 1, "strokeDash": [6, 5]}, "encoding": {"x": {"field": "x", "type": "quantitative", "title": null}, "y": {"field": "h", "type": "quantitative", "title": null}}},
                {"mark": {"type": "line", "color": "black", "strokeWidth": 1, "strokeDash": [6, 5]}, "encoding": {"x": {"field": "x", "type": "quantitative", "title": null}, "y": {"field": "l", "type": "quantitative", "title": null}}}
              ]
            },
            {
              "title": {"text": "Share of Quarters with Welfare Receipt Above Median", "anchor": "start", "frame": "group", "fontSize": 15, "offset": 4, "dx": 3},
              "width": 631, "height": 64,
              "data": {"name": "abvw"},
              "layer": [
                {"data": {"values": [{"a": 59, "b": 78}]}, "mark": {"type": "rect", "fill": "#cccccc", "stroke": "#bfbfbf", "strokeWidth": 1}, "encoding": {"x": {"field": "a", "type": "quantitative", "title": "Percentile"}, "x2": {"field": "b"}}},
                {"mark": {"type": "rule", "color": "black", "strokeWidth": 1.2}, "encoding": {"y": {"datum": 0, "type": "quantitative"}}},
                {"mark": {"type": "line", "strokeWidth": 2, "color": "#0000ff"}, "encoding": {"x": {"field": "x", "type": "quantitative", "scale": {"domain": [1, 97], "nice": false}, "axis": {"values": [10,20,30,40,50,60,70,80,90], "title": "Percentile", "titleX": 295, "titlePadding": 17}}, "y": {"field": "q", "type": "quantitative", "scale": {"domain": [-1040, 1100], "nice": false}, "axis": {"values": [-1000,-500,0,500,1000], "tickCount": 10, "title": null, "labelOverlap": false}}}},
                {"mark": {"type": "line", "color": "black", "strokeWidth": 1, "strokeDash": [6, 5]}, "encoding": {"x": {"field": "x", "type": "quantitative", "title": "Percentile"}, "y": {"field": "h", "type": "quantitative", "title": null}}},
                {"mark": {"type": "line", "color": "black", "strokeWidth": 1, "strokeDash": [6, 5]}, "encoding": {"x": {"field": "x", "type": "quantitative", "title": "Percentile"}, "y": {"field": "l", "type": "quantitative", "title": null}}}
              ]
            }
          ]
        }
      ]
    }
  ]
}
